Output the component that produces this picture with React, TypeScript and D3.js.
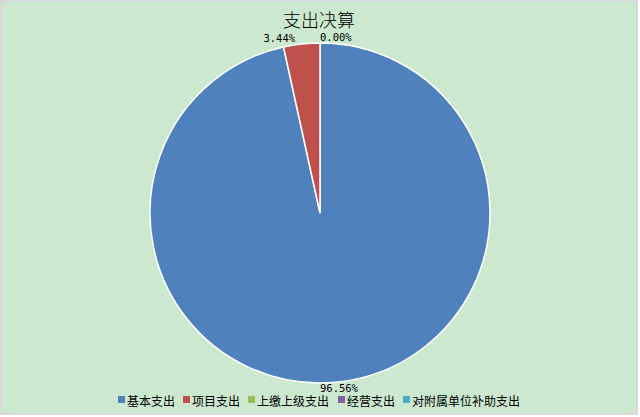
import React, { useEffect, useRef } from "react";
import * as d3 from "d3";

const categories = ["基本支出", "项目支出", "上缴上级支出", "经营支出", "对附属单位补助支出"];
const values = [96.56, 3.44, 0, 0, 0];
const colors = ["#4F81BD", "#C0504D", "#9BBB59", "#8064A2", "#4BACC6"];
const title = "支出决算";

type Slice = { name: string; value: number; color: string };

const App: React.FC = () => {
  const svgRef = useRef<SVGSVGElement>(null);

  useEffect(() => {
    if (!svgRef.current) return;
    document.body.style.margin = "0";

    const width = 640;
    const height = 417;
    const cx = 320;
    const cy = 213;
    const radius = 170;

    const svg = d3.select(svgRef.current);
    svg.selectAll("*").remove();
    svg.attr("width", width).attr("height", height);

    // background
    svg
      .append("rect")
      .attr("x", 1)
      .attr("y", 1)
      .attr("width", 636)
      .attr("height", 413)
      .attr("fill", "#CCE8CF")
      .attr("stroke", "#D9D9D9")
      .attr("stroke-width", 2);

    // title
    svg
      .append("text")
      .attr("x", 319)
      .attr("y", 27)
      .attr("text-anchor", "middle")
      .style("font-family", "'Noto Sans CJK SC', sans-serif")
      .style("font-size", "18px")
      .style("font-weight", "300")
      .attr("fill", "#000")
      .text(title);

    const data: Slice[] = categories.map((c, i) => ({ name: c, value: values[i], color: colors[i] }));
    const total = d3.sum(values);

    const pie = d3
      .pie<Slice>()
      .sort(null)
      .value((d) => d.value);
    const arcs = pie(data);

    const arc = d3.arc<d3.PieArcDatum<Slice>>().innerRadius(0).outerRadius(radius);

    const g = svg.append("g").attr("transform", `translate(${cx},${cy})`);

    g.selectAll("path")
      .data(arcs.filter((d) => d.value > 0))
      .enter()
      .append("path")
      .attr("d", arc)
      .attr("fill", (d) => d.data.color)
      .attr("stroke", "#fff")
      .attr("stroke-width", 1.5);

    // data labels (labels that land on the same spot are shown once, like Excel)
    const seen = new Set<string>();
    const labelArcs = arcs.filter((d) => {
      const key = ((d.startAngle + d.endAngle) / 2).toFixed(4);
      if (seen.has(key)) return false;
      seen.add(key);
      return true;
    });

    const labelR = radius + 6;
    g.selectAll("text.label")
      .data(labelArcs)
      .enter()
      .append("text")
      .attr("class", "label")
      .each(function (d) {
        const a = (d.startAngle + d.endAngle) / 2;
        const x = Math.sin(a) * labelR;
        const y = -Math.cos(a) * labelR;
        let anchor = "middle";
        if (Math.cos(a) > -0.9) anchor = Math.sin(a) < -0.001 ? "end" : "start";
        d3.select(this)
          .attr("x", anchor === "end" ? x - 6 : x)
          .attr("y", y)
          .attr("text-anchor", anchor)
          .attr("dominant-baseline", "central");
      })
      .style("font-family", "'DejaVu Sans Mono', monospace")
      .style("font-size", "10.5px")
      .attr("fill", "#000")
      .text((d) => ((d.data.value / total) * 100).toFixed(2) + "%");

    // legend
    const legendX = [118, 183, 248, 338, 403];
    const legend = svg.append("g");
    categories.forEach((c, i) => {
      legend
        .append("rect")
        .attr("x", legendX[i])
        .attr("y", 396)
        .attr("width", 7)
        .attr("height", 7)
        .attr("fill", colors[i]);
      legend
        .append("text")
        .attr("x", legendX[i] + 9)
        .attr("y", 400)
        .attr("dominant-baseline", "central")
        .style("font-family", "'Noto Sans CJK SC', sans-serif")
        .style("font-size", "12px")
        .attr("fill", "#000")
        .text(c);
    });
  }, []);

  return (
    <div>
      <svg ref={svgRef}></svg>
    </div>
  );
};

export default App;
